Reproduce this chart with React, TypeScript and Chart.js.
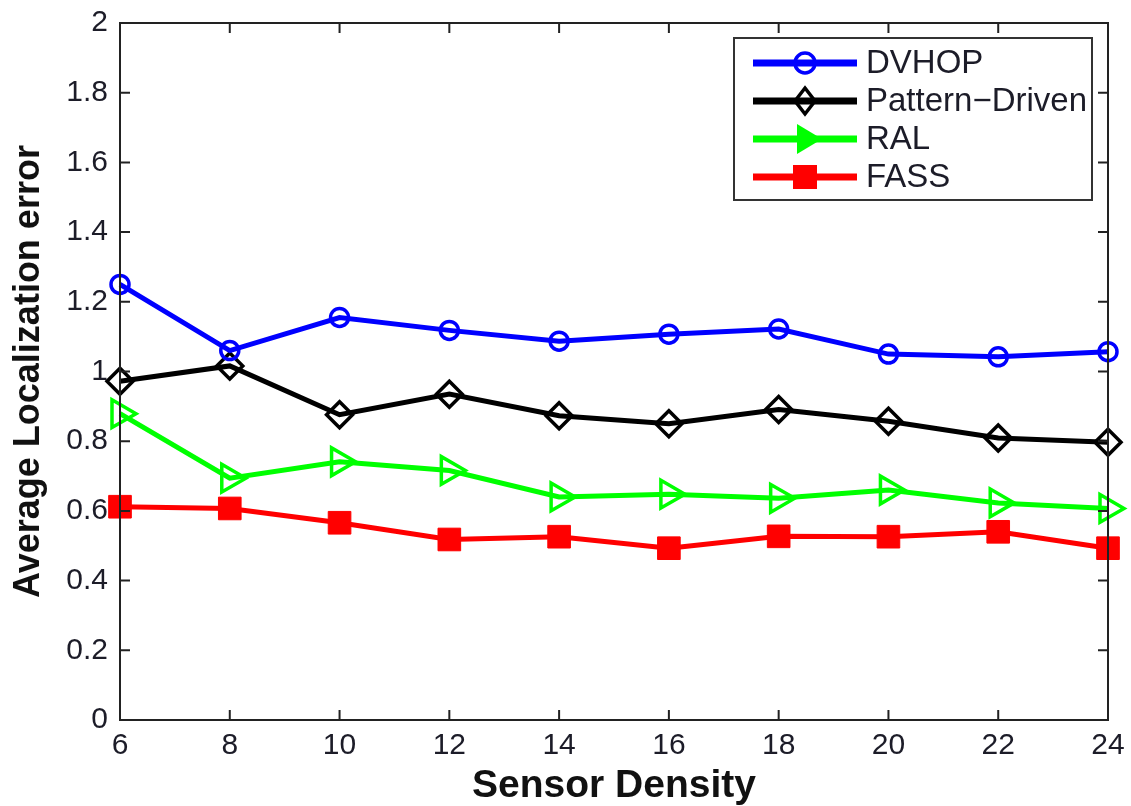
import React, { useEffect, useRef } from "react";
import { Chart, registerables } from "chart.js";

Chart.register(...registerables);

const xValues = [6, 8, 10, 12, 14, 16, 18, 20, 22, 24];
const dvhop = [1.25, 1.06, 1.155, 1.118, 1.087, 1.107, 1.122, 1.05, 1.042, 1.057];
const patternDriven = [0.972, 1.016, 0.876, 0.935, 0.873, 0.85, 0.891, 0.857, 0.809, 0.797];
const ral = [0.879, 0.694, 0.741, 0.716, 0.64, 0.648, 0.636, 0.66, 0.623, 0.607];
const fass = [0.612, 0.607, 0.566, 0.518, 0.526, 0.493, 0.527, 0.526, 0.54, 0.493];

const seriesNames = ["DVHOP", "Pattern\u2212Driven", "RAL", "FASS"];
const seriesColors = ["#0000ff", "#000000", "#00ff00", "#ff0000"];
const xTitle = "Sensor Density";
const yTitle = "Average Localization error";

const FONT = "'Liberation Sans', Arial, Helvetica, sans-serif";

function drawMarker(ctx: CanvasRenderingContext2D, kind: string, x: number, y: number, color: string) {
  ctx.save();
  ctx.strokeStyle = color;
  ctx.fillStyle = color;
  ctx.lineWidth = 3.5;
  ctx.beginPath();
  if (kind === "circle") {
    ctx.arc(x, y, 10, 0, Math.PI * 2);
    ctx.stroke();
  } else if (kind === "diamond") {
    ctx.moveTo(x, y - 13);
    ctx.lineTo(x + 10, y);
    ctx.lineTo(x, y + 13);
    ctx.lineTo(x - 10, y);
    ctx.closePath();
    ctx.stroke();
  } else if (kind === "triangle") {
    ctx.moveTo(x + 17, y);
    ctx.lineTo(x - 8, y - 15);
    ctx.lineTo(x - 8, y + 15);
    ctx.closePath();
    ctx.fill();
  } else if (kind === "square") {
    ctx.rect(x - 12, y - 12, 24, 24);
    ctx.fill();
  }
  ctx.restore();
}

const legendKinds = ["circle", "diamond", "triangle", "square"];

const framePlugin = {
  id: "frameTicks",
  afterDatasetsDraw(chart: any) {
    const { ctx, chartArea } = chart;
    const { left, right, top, bottom } = chartArea;
    const xs = chart.scales.x;
    const ys = chart.scales.y;
    ctx.save();
    ctx.strokeStyle = "#222";
    ctx.lineWidth = 2;
    ctx.strokeRect(left, top, right - left, bottom - top);
    ctx.beginPath();
    const tl = 10;
    xs.ticks.forEach((t: any) => {
      const px = xs.getPixelForValue(t.value);
      ctx.moveTo(px, bottom);
      ctx.lineTo(px, bottom - tl);
      ctx.moveTo(px, top);
      ctx.lineTo(px, top + tl);
    });
    ys.ticks.forEach((t: any) => {
      const py = ys.getPixelForValue(t.value);
      ctx.moveTo(left, py);
      ctx.lineTo(left + tl, py);
      ctx.moveTo(right, py);
      ctx.lineTo(right - tl, py);
    });
    ctx.stroke();

    // legend box
    const bx = right - 374;
    const by = top + 15;
    const bw = 358;
    const bh = 162;
    ctx.fillStyle = "#ffffff";
    ctx.fillRect(bx, by, bw, bh);
    ctx.strokeStyle = "#333";
    ctx.lineWidth = 2;
    ctx.strokeRect(bx, by, bw, bh);
    ctx.font = `33px ${FONT}`;
    ctx.textBaseline = "middle";
    ctx.textAlign = "left";
    chart.data.datasets.forEach((ds: any, i: number) => {
      const ry = by + 25 + i * 38;
      const color = seriesColors[i];
      ctx.strokeStyle = color;
      ctx.lineWidth = 7;
      ctx.beginPath();
      ctx.moveTo(bx + 19, ry);
      ctx.lineTo(bx + 123, ry);
      ctx.stroke();
      drawMarker(ctx, legendKinds[i], bx + 71, ry, color);
      ctx.fillStyle = "#1c1c28";
      ctx.fillText(ds.label, bx + 132, ry + 1);
    });
    ctx.restore();
  },
};

export default function App() {
  const ref = useRef<HTMLCanvasElement | null>(null);
  useEffect(() => {
    if (!ref.current) return;
    const all = [dvhop, patternDriven, ral, fass];
    const styles = [
      { pointStyle: "circle", pointRadius: 9, pointBorderWidth: 3.5, pointBackgroundColor: "rgba(0,0,0,0)", pointRotation: 0 },
      { pointStyle: "rectRot", pointRadius: 13, pointBorderWidth: 3.5, pointBackgroundColor: "rgba(0,0,0,0)", pointRotation: 0 },
      { pointStyle: "triangle", pointRadius: 16, pointBorderWidth: 3.5, pointBackgroundColor: "rgba(0,0,0,0)", pointRotation: 90 },
      { pointStyle: "rect", pointRadius: 16, pointBorderWidth: 1, pointBackgroundColor: "#ff0000", pointRotation: 0 },
    ];
    const chart = new Chart(ref.current, {
      type: "line",
      data: {
        datasets: all.map((vals, i) => ({
          label: seriesNames[i],
          data: xValues.map((x, j) => ({ x, y: vals[j] })),
          borderColor: seriesColors[i],
          borderWidth: 5,
          pointBorderColor: seriesColors[i],
          pointHoverRadius: styles[i].pointRadius,
          tension: 0,
          clip: false as any,
          fill: false,
          ...styles[i],
        })),
      },
      options: {
        responsive: false,
        animation: false,
        layout: { padding: { top: 23, right: 23, left: 0, bottom: 0 } },
        plugins: { legend: { display: false }, tooltip: { enabled: false } },
        scales: {
          x: {
            type: "linear",
            min: 6,
            max: 24,
            grid: { display: false, drawTicks: false },
            border: { display: false },
            ticks: {
              stepSize: 2,
              padding: 8,
              color: "#1c1c28",
              font: { family: FONT, size: 30 },
              maxRotation: 0,
            },
            title: {
              display: true,
              text: xTitle,
              color: "#111",
              font: { family: FONT, size: 39, weight: "bold", lineHeight: 1.0 },
              padding: { top: 0, bottom: 0 },
            },
            afterFit(scale: any) {
              scale.height = 86;
              scale.paddingLeft = 0;
              scale.paddingRight = 0;
            },
          },
          y: {
            min: 0,
            max: 2,
            grid: { display: false, drawTicks: false },
            border: { display: false },
            ticks: {
              stepSize: 0.2,
              padding: 12,
              color: "#1c1c28",
              font: { family: FONT, size: 30 },
              callback: (v: any) => String(Math.round(Number(v) * 10) / 10),
            },
            title: {
              display: true,
              text: yTitle,
              color: "#111",
              font: { family: FONT, size: 36, weight: "bold" },
              padding: { top: 7, bottom: 0 },
            },
            afterFit(scale: any) {
              scale.width = 120;
              scale.paddingTop = 0;
              scale.paddingBottom = 0;
            },
          },
        },
      },
      plugins: [framePlugin],
    } as any);
    return () => chart.destroy();
  }, []);
  return (
    <div style={{ position: "fixed", left: 0, top: 0, width: 1131, height: 806, background: "#fff" }}>
      <canvas ref={ref} width={1131} height={806} style={{ display: "block" }} />
    </div>
  );
}
